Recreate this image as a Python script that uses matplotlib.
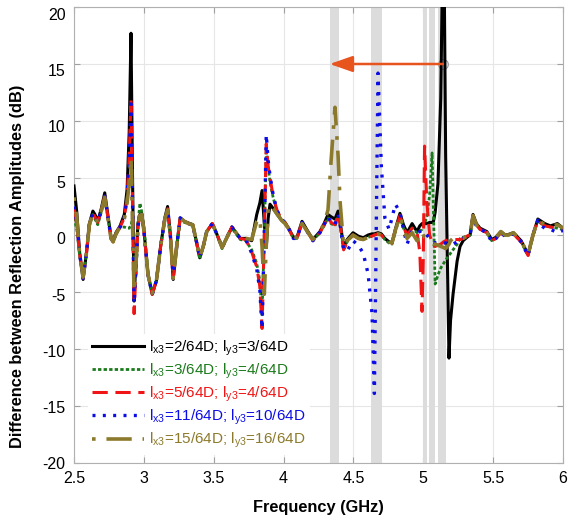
import matplotlib
matplotlib.use('Agg')
import matplotlib.pyplot as plt
from matplotlib.transforms import ScaledTranslation

plt.rcParams['font.family'] = ['Liberation Sans', 'DejaVu Sans']
plt.rcParams['mathtext.fontset'] = 'custom'
plt.rcParams['mathtext.rm'] = 'Liberation Sans'
plt.rcParams['mathtext.it'] = 'Liberation Sans:italic'
plt.rcParams['axes.unicode_minus'] = False

# frequency grid (GHz) shared by all five curves
freq = [2.500, 2.520, 2.540, 2.565, 2.590, 2.610, 2.635, 2.650, 2.670, 2.695,
        2.720, 2.745, 2.765, 2.780, 2.800, 2.830, 2.860, 2.880, 2.895, 2.908,
        2.918, 2.930, 2.944, 2.958, 2.972, 2.985, 3.000, 3.030, 3.060, 3.090,
        3.120, 3.150, 3.170, 3.190, 3.210, 3.235, 3.260, 3.290, 3.320, 3.350,
        3.375, 3.400, 3.425, 3.450, 3.490, 3.525, 3.560, 3.595, 3.630, 3.660,
        3.690, 3.730, 3.772, 3.808, 3.830, 3.846, 3.862, 3.876, 3.890, 3.903,
        3.927, 3.955, 3.985, 4.010, 4.040, 4.070, 4.096, 4.132, 4.165, 4.210,
        4.260, 4.290, 4.318, 4.340, 4.368, 4.390, 4.404, 4.430, 4.455, 4.497,
        4.535, 4.570, 4.605, 4.633, 4.650, 4.676, 4.700, 4.725, 4.755, 4.776,
        4.800, 4.833, 4.858, 4.884, 4.920, 4.955, 4.975, 4.991, 5.000, 5.009,
        5.025, 5.045, 5.063, 5.073, 5.085, 5.105, 5.125, 5.145, 5.160, 5.184,
        5.195, 5.213, 5.242, 5.263, 5.285, 5.313, 5.335, 5.356, 5.380, 5.406,
        5.455, 5.490, 5.520, 5.555, 5.585, 5.610, 5.645, 5.700, 5.750, 5.785,
        5.820, 5.845, 5.870, 5.910, 5.960, 6.000]

# lx3=2/64D, ly3=3/64D
d_2_3 = [4.3, 2.0, -1.5, -3.9, -1.5, 1.0, 2.1, 1.8, 1.2, 2.3,
         3.7, 1.5, -0.2, -0.5, 0.2, 0.8, 1.8, 4.0, 9.0, 17.7,
         6.0, -5.8, -2.0, 1.0, 1.8, 1.9, 0.5, -3.5, -5.2, -4.0,
         -1.0, 1.5, 2.5, 0.0, -3.9, -1.0, 1.5, 1.2, 1.05, 0.9,
         -0.5, -2.0, -1.0, 0.3, 1.0, 0.0, -1.1, -0.2, 0.7, 0.2,
         -0.3, -0.3, -0.5, 1.8, 2.8, 3.9, 1.0, -1.1, 1.5, 2.7,
         2.3, 1.8, 1.3, 1.1, 0.5, -0.2, -0.2, 1.2, 0.5, -0.4,
         0.3, 1.0, 1.8, 1.6, 1.4, 2.1, 1.2, -1.1, -0.4, 0.2,
         -0.1, -0.25, 0.0, 0.1, 0.1, 0.2, 0.1, -0.3, -0.6, -0.7,
         0.5, 1.9, 0.9, 0.2, 1.0, 0.3, 0.8, 1.0, 1.0, 1.0,
         1.0, 1.1, 1.1, 1.2, 2.0, 4.5, 12.0, 30.0, 7.0, -10.8,
         -7.5, -5.2, -2.3, -1.0, -0.5, -0.2, 0.0, 1.8, 1.0, 0.6,
         0.3, -0.4, -0.2, 0.3, 0.0, 0.05, 0.2, -0.5, -1.7, 0.0,
         1.4, 1.2, 1.0, 0.8, 1.0, 0.6]

# lx3=3/64D, ly3=4/64D
d_3_4 = [1.5, 0.5, -1.8, -3.7, -1.5, 0.8, 1.8, 1.4, 0.9, 2.0,
         3.3, 1.3, -0.3, -0.6, 0.0, 0.7, 0.7, 0.6, 0.6, 0.8,
         1.5, -2.0, -3.6, 1.0, 2.8, 2.0, 0.8, -3.4, -5.1, -4.0,
         -1.0, 1.3, 2.2, -0.2, -3.7, -1.0, 1.4, 1.1, 1.0, 0.8,
         -0.6, -2.1, -1.0, 0.3, 1.0, 0.0, -1.2, -0.2, 0.6, 0.1,
         -0.4, -0.5, -1.3, -2.5, -4.0, -7.0, 0.0, 7.5, 6.0, 4.6,
         3.2, 2.0, 1.3, 1.0, 0.4, -0.3, -0.3, 1.0, 0.4, -0.5,
         0.2, 0.8, 1.5, 1.0, 0.8, 1.6, 0.9, -1.3, -0.6, 0.0,
         -0.3, -0.4, -0.2, -0.1, 0.0, 0.1, 0.0, -0.4, -0.7, -0.8,
         0.3, 1.6, 0.6, 0.0, 0.6, 0.2, 0.3, 0.5, 0.8, 1.0,
         1.6, 3.5, 7.2, 2.0, -4.3, -3.5, -2.9, -2.5, -2.2, -1.8,
         -1.6, -1.3, -0.8, -0.3, -0.2, -0.1, 0.0, 1.6, 0.9, 0.5,
         0.2, -0.5, -0.3, 0.2, -0.1, 0.0, 0.1, -0.6, -1.8, -0.1,
         1.3, 1.0, 0.8, 0.7, 0.6, 0.5]

# lx3=5/64D, ly3=4/64D
d_5_4 = [2.3, 1.0, -1.6, -3.8, -1.5, 0.9, 1.9, 1.6, 1.1, 2.1,
         3.4, 1.4, -0.3, -0.6, 0.1, 0.7, 1.5, 3.3, 7.0, 11.9,
         3.5, -6.9, -3.0, 0.8, 1.7, 1.8, 0.4, -3.5, -5.2, -4.0,
         -1.0, 1.4, 2.3, -0.1, -3.8, -1.0, 1.5, 1.2, 1.0, 0.9,
         -0.5, -2.0, -1.0, 0.3, 1.0, 0.0, -1.1, -0.2, 0.7, 0.2,
         -0.3, -0.4, -1.5, -2.8, -4.5, -8.2, 0.0, 8.0, 6.0, 5.0,
         3.3, 2.1, 1.4, 1.1, 0.5, -0.3, -0.3, 1.1, 0.4, -0.5,
         0.2, 0.9, 1.6, 1.1, 0.9, 1.8, 1.0, -1.3, -0.6, 0.0,
         -0.3, -0.4, -0.2, -0.1, 0.0, 0.1, 0.0, -0.4, -0.6, -0.7,
         0.4, 1.7, 0.7, 0.0, 0.6, 0.3, -1.5, -6.7, -2.0, 7.8,
         3.0, 0.0, -0.6, -0.8, -1.0, -0.9, -0.8, -0.6, -0.5, -0.4,
         -0.4, -0.4, -0.4, -0.4, -0.3, -0.1, 0.0, 1.7, 0.9, 0.5,
         0.2, -0.5, -0.3, 0.2, -0.1, 0.0, 0.1, -0.6, -1.8, 0.0,
         1.3, 1.0, 0.8, 0.7, 0.6, 0.5]

# lx3=11/64D, ly3=10/64D
d_11_10 = [2.5, 1.2, -1.6, -3.8, -1.5, 0.9, 1.9, 1.6, 1.1, 2.1,
           3.4, 1.4, -0.3, -0.6, 0.1, 0.7, 1.5, 3.3, 7.0, 11.5,
           3.5, -6.0, -2.8, 0.8, 1.7, 1.8, 0.4, -3.5, -5.2, -4.0,
           -1.0, 1.4, 2.3, -0.1, -3.8, -1.0, 1.5, 1.2, 1.0, 0.9,
           -0.5, -2.0, -1.0, 0.3, 1.0, 0.0, -1.1, -0.2, 0.7, 0.2,
           -0.3, -0.4, -1.6, -3.0, -4.8, -8.2, 0.0, 8.8, 6.5, 5.2,
           3.4, 2.1, 1.4, 1.1, 0.5, -0.3, -0.3, 1.1, 0.4, -0.5,
           0.2, 0.9, 1.6, 1.1, 0.9, 1.8, 1.0, -1.3, -1.4, -0.5,
           -0.9, -1.6, -3.4, -6.9, -13.9, 14.2, 6.0, 1.5, 0.5, 1.5,
           2.7, 2.0, 0.5, -0.8, 0.4, 0.2, 0.3, 0.4, 0.3, 0.2,
           0.0, -0.3, -0.5, -0.6, -0.7, -0.7, -0.7, -0.7, -0.7, -0.8,
           -0.8, -0.8, -0.6, -0.4, -0.3, -0.1, 0.0, 1.5, 0.8, 0.5,
           0.2, -0.6, -0.3, 0.2, -0.1, 0.0, 0.1, -0.6, -1.8, 0.0,
           1.3, 0.8, 0.6, 0.5, 0.2, 0.4]

# lx3=15/64D, ly3=16/64D
d_15_16 = [3.3, 1.5, -1.6, -3.7, -1.5, 0.9, 1.9, 1.6, 1.1, 2.1,
           3.3, 1.3, -0.3, -0.6, 0.1, 0.7, 1.4, 2.8, 4.5, 6.8,
           1.5, -5.0, -2.5, 0.8, 1.7, 1.8, 0.4, -3.5, -5.1, -4.0,
           -1.0, 1.4, 2.2, -0.1, -3.8, -1.0, 1.5, 1.2, 1.0, 0.9,
           -0.5, -2.0, -1.0, 0.3, 1.0, 0.0, -1.1, -0.2, 0.7, 0.2,
           -0.3, -0.3, -0.4, 1.2, 1.5, -1.0, -5.2, -1.0, 2.3, 2.7,
           2.3, 1.8, 1.3, 1.0, 0.5, -0.2, -0.2, 1.0, 0.4, -0.4,
           0.3, 1.0, 2.2, 6.5, 11.2, 7.0, 3.0, -1.0, -0.5, 0.0,
           -0.3, -0.4, -0.2, -0.1, 0.0, 0.1, 0.0, -0.3, -0.6, -0.7,
           0.4, 1.7, 0.6, -0.3, 0.2, -0.5, 0.2, 0.3, 0.0, -0.2,
           -0.3, -0.6, -0.7, -0.8, -0.8, -0.9, -1.0, -1.1, -1.2, -0.8,
           -0.5, -0.3, -0.3, -0.3, -0.3, -0.1, 0.0, 1.7, 0.9, 0.5,
           0.2, -0.4, -0.2, 0.3, 0.0, 0.0, 0.2, -0.5, -1.7, 0.0,
           1.3, 1.1, 0.9, 0.8, 0.9, 0.6]

labels = [r'l$_{\mathrm{x3}}$=2/64D; l$_{\mathrm{y3}}$=3/64D',
          r'l$_{\mathrm{x3}}$=3/64D; l$_{\mathrm{y3}}$=4/64D',
          r'l$_{\mathrm{x3}}$=5/64D; l$_{\mathrm{y3}}$=4/64D',
          r'l$_{\mathrm{x3}}$=11/64D; l$_{\mathrm{y3}}$=10/64D',
          r'l$_{\mathrm{x3}}$=15/64D; l$_{\mathrm{y3}}$=16/64D']

# shaded frequency windows
bands = [(4.33, 4.40), (4.625, 4.705), (4.995, 5.025), (5.04, 5.085), (5.105, 5.16)]

# arrow from the marked point back to the first window
arrow_y = 15
arrow_from = 5.14
arrow_to = 4.33

fig = plt.figure(figsize=(5.81, 5.23), dpi=100)
ax = fig.add_axes([74/581, 1-463/523, 489/581, 456/523])

for a, b in bands:
    ax.axvspan(a, b, color='#dcdcdc', lw=0, zorder=1)

styles = [
    dict(color='black', lw=2.2, ls='-'),
    dict(color='#1b7a1b', lw=2.0, ls=(0, (1.2, 0.8))),
    dict(color='#f01414', lw=2.2, ls=(0, (5, 2.5))),
    dict(color='#0c0ce6', lw=2.4, ls=(0, (0.9, 2.2))),
    dict(color='#8c7a2c', lw=2.6, ls=(10, (7, 3, 1, 3))),
]
series = [d_2_3, d_3_4, d_5_4, d_11_10, d_15_16]
lines = []
for i, (ys, st, lab) in enumerate(zip(series, styles, labels)):
    ln, = ax.plot(freq, ys, label=lab, zorder=3+i, **st)
    lines.append(ln)

ax.plot([arrow_from], [arrow_y], 'o', ms=7, mfc='#e2e2e2', mec='#9a9a9a', mew=0.8, zorder=2)
ax.annotate('', xy=(arrow_to, arrow_y), xytext=(arrow_from, arrow_y),
            arrowprops=dict(arrowstyle='-|>,head_length=1.0,head_width=0.35',
                            color='#e8541e', lw=1.8, mutation_scale=14,
                            shrinkA=0, shrinkB=0), zorder=9)

ax.set_xlim(2.5, 6)
ax.set_ylim(-20, 20)
ax.set_xticks([2.5, 3, 3.5, 4, 4.5, 5, 5.5, 6])
ax.set_xticklabels(['2.5', '3', '3.5', '4', '4.5', '5', '5.5', '6'])
ax.set_yticks(range(-20, 21, 5))
ax.grid(True, color='#e6e6e6', lw=0.8)
ax.set_axisbelow(True)
ax.tick_params(direction='in', top=True, right=True, length=4, color='#a0a0a0',
               labelsize=11.5, pad=6)
for sp in ax.spines.values():
    sp.set_color('#b0b0b0')
    sp.set_linewidth(0.8)

# y tick labels drift a few pixels below their ticks toward the top
for v, lab in zip(range(-20, 21, 5), ax.get_yticklabels()):
    dy = 7 * (v + 20) / 40
    lab.set_transform(lab.get_transform() + ScaledTranslation(0, -dy/100, fig.dpi_scale_trans))

ax.set_xlabel('Frequency (GHz)', fontsize=11.8, fontweight='bold', labelpad=10)
ax.set_ylabel('Difference between Reflection Amplitudes (dB)', fontsize=11.8,
              fontweight='bold')
ax.yaxis.set_label_coords(-0.1, 0.432)

leg = ax.legend(handles=lines, loc='upper left', bbox_to_anchor=(0.028, 0.283),
                frameon=True, facecolor='white', edgecolor='none', framealpha=1,
                fontsize=11, handlelength=3.4, handletextpad=0.3,
                labelspacing=0.25, borderpad=0.3, borderaxespad=0)
for t, ln in zip(leg.get_texts(), lines):
    t.set_color(ln.get_color())

fig.savefig('out.png', dpi=100)
